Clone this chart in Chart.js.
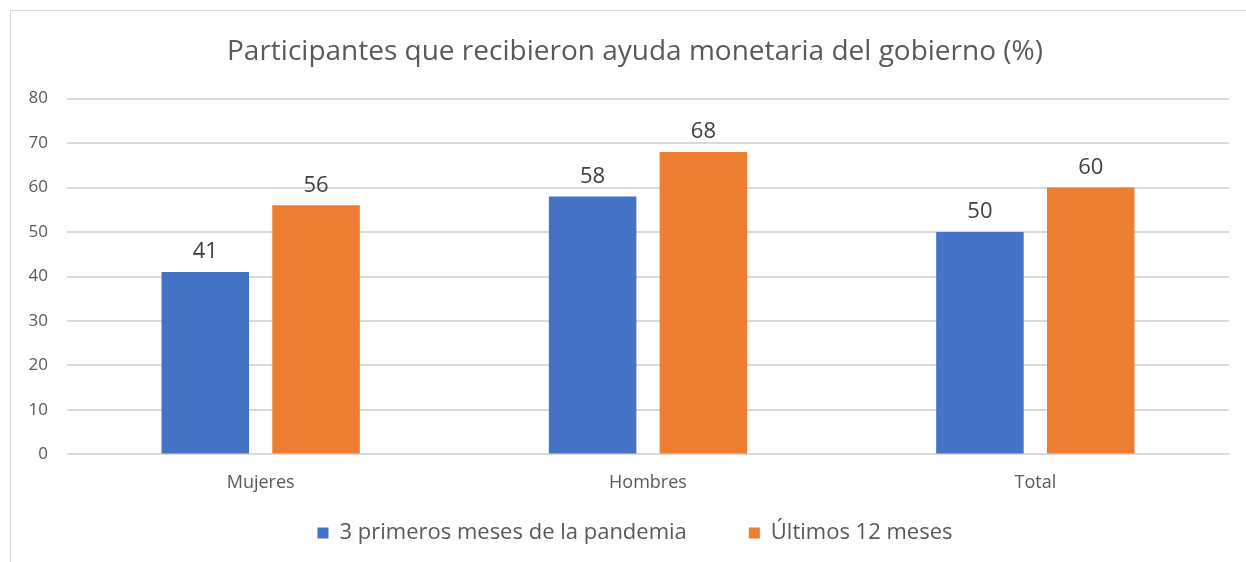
<!DOCTYPE html>
<html>
<head>
<meta charset="utf-8">
<script src="https://cdn.jsdelivr.net/npm/chart.js@4/dist/chart.umd.min.js"></script>
<style>
  body { margin: 0; background: #fff; overflow: hidden; }
  #box { position: absolute; left: 10px; top: 10px; width: 1260px; height: 560px; border: 1px solid #d9d9d9; box-sizing: border-box; }
  #wrap { position: absolute; left: 0; top: 0; width: 1246px; height: 562px; }
</style>
</head>
<body>
<div id="box"></div>
<div id="wrap"><canvas id="myChart"></canvas></div>
<script>
const categorias = ['Mujeres', 'Hombres', 'Total'];
const primerosMeses = [41, 58, 50];
const ultimosMeses = [56, 68, 60];
const serieNombres = ['3 primeros meses de la pandemia', 'Últimos 12 meses'];

const fuente = "'Open Sans', 'Noto Sans', sans-serif";

// etiquetas encima de cada barra
const etiquetas = {
  id: 'etiquetas',
  afterLayout(chart) {
    // deja espacio a las etiquetas del eje y dentro del margen izquierdo
    chart.scales.y.left = 0;
  },
  afterDatasetsDraw(chart) {
    const ctx = chart.ctx;
    ctx.save();
    ctx.font = '22px ' + fuente;
    ctx.fillStyle = '#404040';
    ctx.textAlign = 'center';
    ctx.textBaseline = 'bottom';
    chart.data.datasets.forEach((ds, i) => {
      chart.getDatasetMeta(i).data.forEach((bar, j) => {
        ctx.fillText(ds.data[j], bar.x, bar.y - 9);
      });
    });
    ctx.restore();
  }
};

const ctx = document.getElementById('myChart');

new Chart(ctx, {
  type: 'bar',
  data: {
    labels: categorias,
    datasets: [{
      label: serieNombres[0],
      data: primerosMeses,
      backgroundColor: '#4472c4',
      categoryPercentage: 0.572,
      barPercentage: 0.79
    }, {
      label: serieNombres[1],
      data: ultimosMeses,
      backgroundColor: '#ed7d31',
      categoryPercentage: 0.572,
      barPercentage: 0.79
    }]
  },
  options: {
    responsive: true,
    maintainAspectRatio: false,
    animation: false,
    layout: { padding: { left: 41, right: 17, top: 35, bottom: 8 } },
    plugins: {
      title: {
        display: true,
        text: 'Participantes que recibieron ayuda monetaria del gobierno (%)',
        color: '#595959',
        font: { family: fuente, size: 28, weight: 'normal' },
        padding: { top: 0, bottom: 30 }
      },
      legend: {
        position: 'bottom',
        labels: {
          color: '#595959',
          font: { family: fuente, size: 22 },
          boxWidth: 11,
          boxHeight: 11,
          padding: 18,
          // separación más ancha entre las dos series
          generateLabels(chart) {
            const items = Chart.defaults.plugins.legend.labels.generateLabels(chart);
            items[0].text += '\u2003\u2003';
            return items;
          }
        }
      },
      tooltip: { enabled: false }
    },
    scales: {
      x: {
        grid: { display: false },
        border: { color: '#d9d9d9' },
        ticks: { color: '#595959', font: { family: fuente, size: 18 }, padding: 10 }
      },
      y: {
        min: 0,
        max: 80,
        ticks: { stepSize: 10, color: '#595959', font: { family: fuente, size: 17 }, padding: 19 },
        grid: { color: '#d9d9d9', lineWidth: 2, drawTicks: false },
        border: { display: false },
        afterFit(scale) { scale.width = 26; }
      }
    }
  },
  plugins: [etiquetas]
});
</script>
</body>
</html>
